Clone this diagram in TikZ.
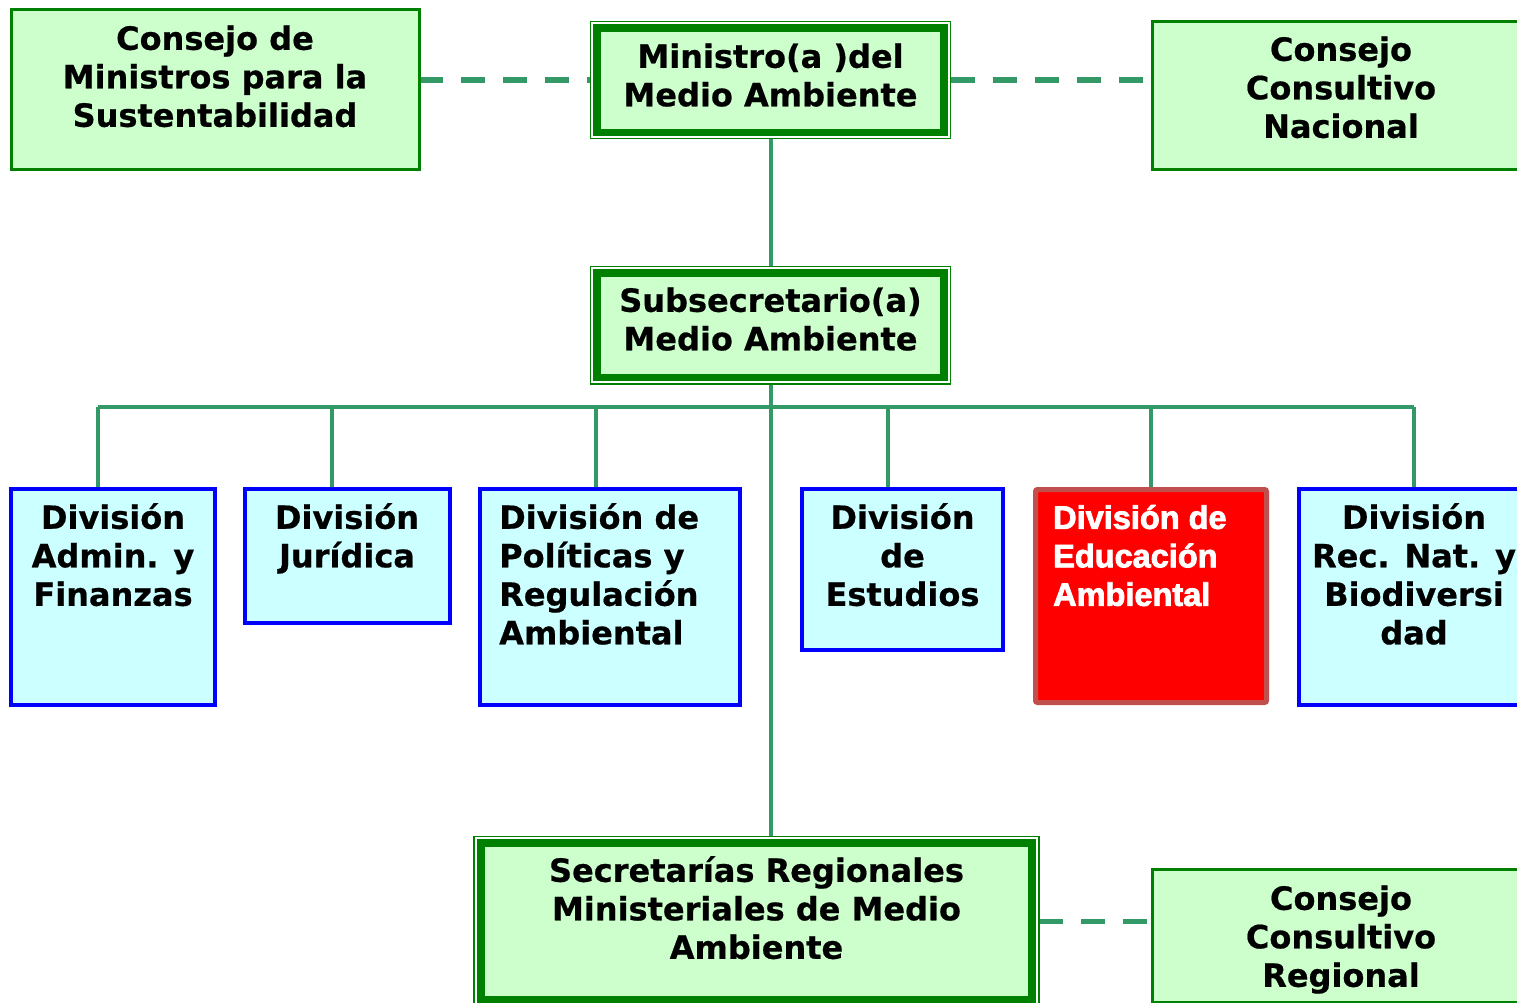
\documentclass[tikz,border=0pt]{standalone}
\usepackage{fontspec}
\setmainfont{DejaVu Sans}[BoldFeatures={FakeBold=0.6}]
\newfontfamily\redfont{Liberation Sans Bold}[FakeBold=2.5]
\usetikzlibrary{backgrounds}
\definecolor{gfill}{HTML}{CCFFCC}
\definecolor{cfill}{HTML}{CCFFFF}
\definecolor{gline}{HTML}{008000}
\definecolor{cline}{HTML}{339966}
\definecolor{rborder}{HTML}{C0504D}
\newcommand{\fst}{\rule{0pt}{30pt}}
\begin{document}
\begin{tikzpicture}[x=1pt,y=-1pt,
  gbox/.style={draw=gline, line width=3pt, fill=gfill, inner sep=0pt, outer sep=0pt},
  outbox/.style={draw=gline, line width=1.5pt, inner sep=0pt, outer sep=0pt},
  inbox/.style={draw=gline, line width=7.5pt, fill=gfill, inner sep=0pt, outer sep=0pt},
  bbox/.style={draw=blue, line width=4pt, fill=cfill, inner sep=0pt, outer sep=0pt},
  rbox/.style={draw=rborder, line width=5pt, fill=red, rounded corners=2pt, inner sep=0pt, outer sep=0pt},
  txt/.style={anchor=north, inner sep=0pt, align=center, text=black,
    font=\bfseries\fontsize{32}{38.5}\selectfont},
  ltxt/.style={txt, anchor=north west, align=left},
  rtxt/.style={anchor=north west, inner sep=0pt, align=left, text=white,
    font=\redfont\fontsize{32.5}{38.5}\selectfont},
  conn/.style={draw=cline, line width=4pt},
  dsh/.style={draw=cline, line width=5.5pt, dash pattern=on 24pt off 18pt},
]
\useasboundingbox (0,0) rectangle (1517,1003);
\clip (0,0) rectangle (1517,1003);

% boxes
\node[gbox, minimum width=408pt, minimum height=160.5pt] (cmin) at (215,89.75) {};
\node[outbox, minimum width=360pt, minimum height=117pt] (minO) at (770.5,80) {};
\node[inbox, minimum width=347pt, minimum height=104.5pt] (minI) at (770.5,80.25) {};
\node[gbox, minimum width=377pt, minimum height=148pt] (cnac) at (1341,95.5) {};
\node[outbox, minimum width=360pt, minimum height=117.5pt] (subO) at (770.5,325.25) {};
\node[inbox, minimum width=347pt, minimum height=104.5pt] (subI) at (770.5,325.25) {};

\node[bbox, minimum width=204pt, minimum height=216pt] (adm) at (113,596.5) {};
\node[bbox, minimum width=204.5pt, minimum height=134.5pt] (jur) at (347.25,555.75) {};
\node[bbox, minimum width=260pt, minimum height=216pt] (pol) at (610,596.5) {};
\node[bbox, minimum width=201pt, minimum height=161pt] (est) at (902.5,569) {};
\node[rbox, minimum width=231pt, minimum height=213pt] (edu) at (1151,596) {};
\node[bbox, minimum width=230pt, minimum height=216pt] (rec) at (1414,596.5) {};

\node[outbox, minimum width=565pt, minimum height=178.5pt] (secO) at (756.5,925.75) {};
\node[inbox, minimum width=551pt, minimum height=156.5pt] (secI) at (756.5,921.25) {};
\node[gbox, minimum width=377pt, minimum height=132.5pt] (creg) at (1341,935.75) {};

% texts
\node[txt] (tcmin) at (215,19.6) {\fst Consejo de\\Ministros para la\\Sustentabilidad};
\node[txt] (tmin) at (770.5,37.6) {\fst Ministro(a )del\\Medio Ambiente};
\node[txt] (tcnac) at (1341,30.6) {\fst Consejo\\Consultivo\\Nacional};
\node[txt] (tsub) at (770.5,281.6) {\fst Subsecretario(a)\\Medio Ambiente};
\node[txt] (tadm) at (113,498.6) {\fst División\\Admin. y\\Finanzas};
\node[txt] (tjur) at (347,498.6) {\fst División\\Jurídica};
\node[ltxt] (tpol) at (499,498.6) {\fst División de\\Políticas y\\Regulación\\Ambiental};
\node[txt] (test) at (902.5,498.6) {\fst División\\de\\Estudios};
\node[rtxt] (tedu) at (1053,498.6) {\fst División de\\Educación\\Ambiental};
\node[txt] (trec) at (1414,498.6) {\fst División\\Rec. Nat. y\\Biodiversi\\dad};
\node[txt] (tsec) at (756.5,851.6) {\fst Secretarías Regionales\\Ministeriales de Medio\\Ambiente};
\node[txt] (tcreg) at (1341,879.6) {\fst Consejo\\Consultivo\\Regional};

% bus coordinates
\coordinate (b1) at (98,406.5);
\coordinate (b2) at (332,406.5);
\coordinate (b3) at (596,406.5);
\coordinate (b4) at (888,406.5);
\coordinate (b5) at (1151,406.5);
\coordinate (b6) at (1414,406.5);

\begin{scope}[on background layer]
  \fill[white] (0,0) rectangle (1517,1003);
  \draw[conn] (minO.south) -- (subO.north);
  \draw[conn] (subO.south) -- (subO.south |- secO.north);
  \draw[conn] (b1) -- (b6);
  \draw[conn] (b1) -- (b1 |- adm.north);
  \draw[conn] (b2) -- (b2 |- jur.north);
  \draw[conn] (b3) -- (b3 |- pol.north);
  \draw[conn] (b4) -- (b4 |- est.north);
  \draw[conn] (b5) -- (b5 |- edu.north);
  \draw[conn] (b6) -- (b6 |- rec.north);
  \draw[dsh] (cmin.east |- minO.west) -- (minO.west);
  \draw[dsh] (minO.east) -- (minO.east -| cnac.west);
  \draw[dsh] (secO.east |- secI.east) -- (secI.east -| creg.west);
\end{scope}
\end{tikzpicture}
\end{document}
